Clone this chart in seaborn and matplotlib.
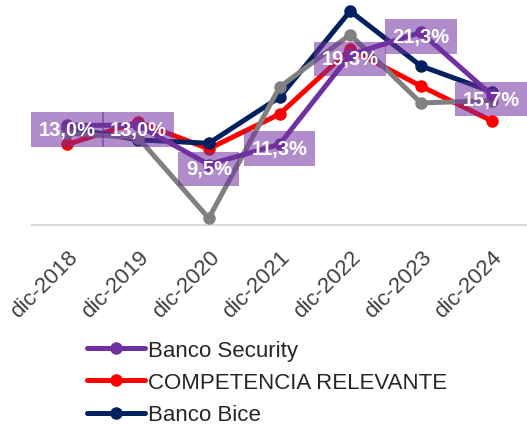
import matplotlib
matplotlib.use("Agg")
import matplotlib.pyplot as plt
import seaborn as sns

# Data (ROE, %)
years = ["dic-2018", "dic-2019", "dic-2020", "dic-2021", "dic-2022", "dic-2023", "dic-2024"]
security = [13.0, 13.0, 9.5, 11.3, 19.3, 21.3, 15.7]
competencia = [11.3, 13.3, 10.9, 14.0, 19.8, 16.5, 13.4]
bice = [12.8, 11.7, 11.4, 15.5, 23.2, 18.3, 16.0]
sistema = [12.3, 11.9, 4.7, 16.4, 21.1, 15.0, 15.2]
security_labels = ["13,0%", "13,0%", "9,5%", "11,3%", "19,3%", "21,3%", "15,7%"]

sns.set_style("white")
plt.rcParams['font.family'] = ['Liberation Sans', 'DejaVu Sans']

fig = plt.figure(figsize=(5.27, 4.27), dpi=100)
ax = fig.add_axes([32 / 527, 1 - 226 / 427, 1 - 32 / 527, 224 / 427])

line_kw = dict(marker='o', linewidth=3.6, markersize=9, markeredgewidth=0)
sns.lineplot(x=years, y=competencia, color='#ff0000', ax=ax, label='COMPETENCIA RELEVANTE', zorder=2, **line_kw)
sns.lineplot(x=years, y=bice, color='#002060', ax=ax, label='Banco Bice', zorder=3, **line_kw)
sns.lineplot(x=years, y=sistema, color='#808080', ax=ax, label='_sistema', zorder=4, **line_kw)
sns.lineplot(x=years, y=security, color='#7030a0', ax=ax, label='Banco Security', zorder=5, **line_kw)

# data labels for Banco Security
for i, (v, txt) in enumerate(zip(security, security_labels)):
    ax.annotate(txt, (i, v), xytext=(0, -3), textcoords='offset points',
                ha='center', va='center', color='white', fontsize=14.5, fontweight='bold',
                bbox=dict(boxstyle='square,pad=0.38', fc='#7030a0', ec='none', alpha=0.55),
                zorder=6)

ax.set_xlim(-0.5, 6.5)
ax.set_ylim(4.1, 24.1)
ax.set_yticks([])
ax.set_xlabel('')
ax.set_ylabel('')
for s in ['top', 'right', 'left']:
    ax.spines[s].set_visible(False)
ax.spines['bottom'].set_color('#d9d9d9')
ax.spines['bottom'].set_linewidth(1.5)
ax.tick_params(axis='x', length=0, pad=15, labelsize=16, colors='#404040')
plt.setp(ax.get_xticklabels(), rotation=45, ha='right', rotation_mode='anchor')

# legend below the plot
handles, labels = ax.get_legend_handles_labels()
order = [labels.index('Banco Security'), labels.index('COMPETENCIA RELEVANTE'), labels.index('Banco Bice')]
ax.legend().remove()
fig.legend([handles[i] for i in order], [labels[i] for i in order],
           loc='upper left', bbox_to_anchor=(76 / 527, 1 - 330 / 427),
           frameon=False, fontsize=16, handlelength=2.6, handletextpad=0.15,
           labelspacing=0.5, borderpad=0, labelcolor='#262626')

fig.savefig('out.png', dpi=100)
